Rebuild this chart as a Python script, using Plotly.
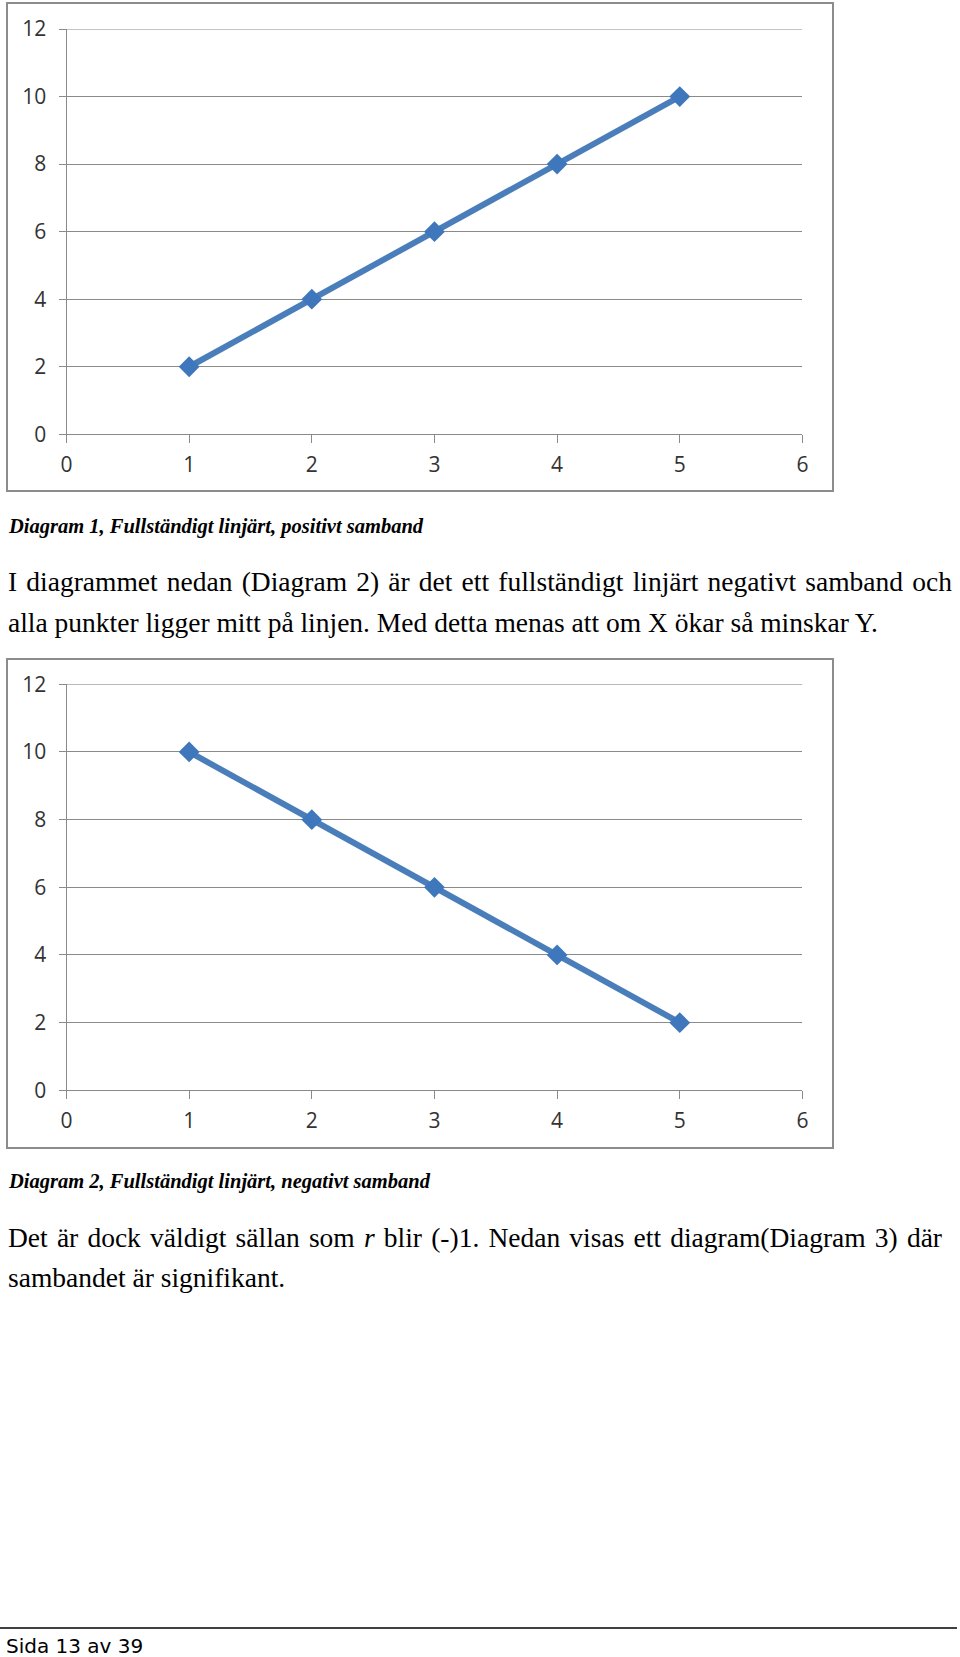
import plotly.graph_objects as go

# ---- data ----
x_values = [1, 2, 3, 4, 5]
y_positive = [2, 4, 6, 8, 10]
y_negative = [10, 8, 6, 4, 2]
x_ticks = [0, 1, 2, 3, 4, 5, 6]
y_ticks = [0, 2, 4, 6, 8, 10, 12]

caption1 = "Diagram 1, Fullständigt linjärt, positivt samband"
caption2 = "Diagram 2, Fullständigt linjärt, negativt samband"
body1_l1 = "I diagrammet nedan (Diagram 2) är det ett fullständigt linjärt negativt samband och"
body1_l2 = "alla punkter ligger mitt på linjen. Med detta menas att om X ökar så minskar Y."
body2_l1 = "Det är dock väldigt sällan som <i>r</i> blir (-)1. Nedan visas ett diagram(Diagram 3) där"
body2_l2 = "sambandet är signifikant."
footer = "Sida 13 av 39"

W, H = 960, 1657
def px(v):
    return v / W
def py(v):
    return 1 - v / H

def justify(s, extra):
    return (" " + extra).join(s.split(" "))

LINE_COLOR = "#4A7EBB"
GRID = "#8A8A8A"
TICKFONT = dict(family="Open Sans", size=21, color="#333333")

fig = go.Figure()
for i, ys in enumerate([y_positive, y_negative]):
    sfx = "" if i == 0 else "2"
    fig.add_trace(go.Scatter(
        x=x_values, y=ys, mode="lines+markers",
        line=dict(color=LINE_COLOR, width=6),
        marker=dict(symbol="diamond", size=16, color="#3F77BC",
                    line=dict(width=0)),
        xaxis="x" + sfx, yaxis="y" + sfx, showlegend=False,
        hoverinfo="skip"))

xdom = [px(66.5), px(802.4)]
common_x = dict(range=[0, 6], tickvals=x_ticks, showgrid=False, zeroline=False,
                showline=True, linecolor=GRID, linewidth=1, ticks="outside",
                ticklen=8, tickcolor=GRID, tickfont=TICKFONT, domain=xdom,
                fixedrange=True, ticklabelstandoff=3, automargin=False)
common_y = dict(range=[0, 12], tickvals=y_ticks, showgrid=True, gridcolor=GRID,
                gridwidth=1, zeroline=False, showline=True, linecolor=GRID,
                linewidth=1, ticks="outside", ticklen=7, tickcolor=GRID,
                tickfont=TICKFONT, fixedrange=True, ticklabelstandoff=8,
                automargin=False)

fig.update_layout(
    template="none",
    width=W, height=H, margin=dict(l=0, r=0, t=0, b=0, autoexpand=False),
    paper_bgcolor="white", plot_bgcolor="white",
    xaxis=dict(**common_x, anchor="y"),
    yaxis=dict(**common_y, anchor="x", domain=[py(434.3), py(29)]),
    xaxis2=dict(**common_x, anchor="y2"),
    yaxis2=dict(**common_y, anchor="x2", domain=[py(1090.3), py(684.3)]),
)

shapes = []
for top, bot in [(3, 491), (659, 1148)]:
    shapes.append(dict(type="rect", xref="paper", yref="paper",
                       x0=px(7), x1=px(833), y0=py(bot), y1=py(top),
                       line=dict(color="#8C8C8C", width=2), layer="below"))
# top gridline (plotly drops the grid line at the range edge)
for yr in ["y", "y2"]:
    shapes.append(dict(type="line", xref="x" if yr == "y" else "x2", yref=yr,
                       x0=x_ticks[0], x1=x_ticks[-1], y0=y_ticks[-1], y1=y_ticks[-1],
                       line=dict(color=GRID, width=1), layer="below"))
shapes.append(dict(type="line", xref="paper", yref="paper",
                   x0=0, x1=px(957), y0=py(1628), y1=py(1628),
                   line=dict(color="black", width=1.5)))
fig.update_layout(shapes=shapes)

SERIF = "Liberation Serif, Times New Roman, serif"
def ann(text, x, y, size, family=SERIF, bold=False, italic=False):
    return dict(text=text, x=px(x), y=py(y), xref="paper", yref="paper",
                xanchor="left", yanchor="middle", showarrow=False,
                font=dict(family=family, size=size, color="black",
                          weight="bold" if bold else "normal",
                          style="italic" if italic else "normal"))

BODY = 27.5
anns = [
    ann(caption1, 6, 526, 20.5, bold=True, italic=True),
    ann(justify(body1_l1, "\u200a"), 6, 581, BODY),
    ann(body1_l2, 6, 622, BODY),
    ann(caption2, 6, 1181, 20.5, bold=True, italic=True),
    ann(justify(body2_l1, "\u200a"), 6, 1237, BODY),
    ann(body2_l2, 6, 1277, BODY),
    ann(footer, 4, 1646, 20, family="DejaVu Sans"),
]
fig.update_layout(annotations=anns)

fig.write_html("out.html")
